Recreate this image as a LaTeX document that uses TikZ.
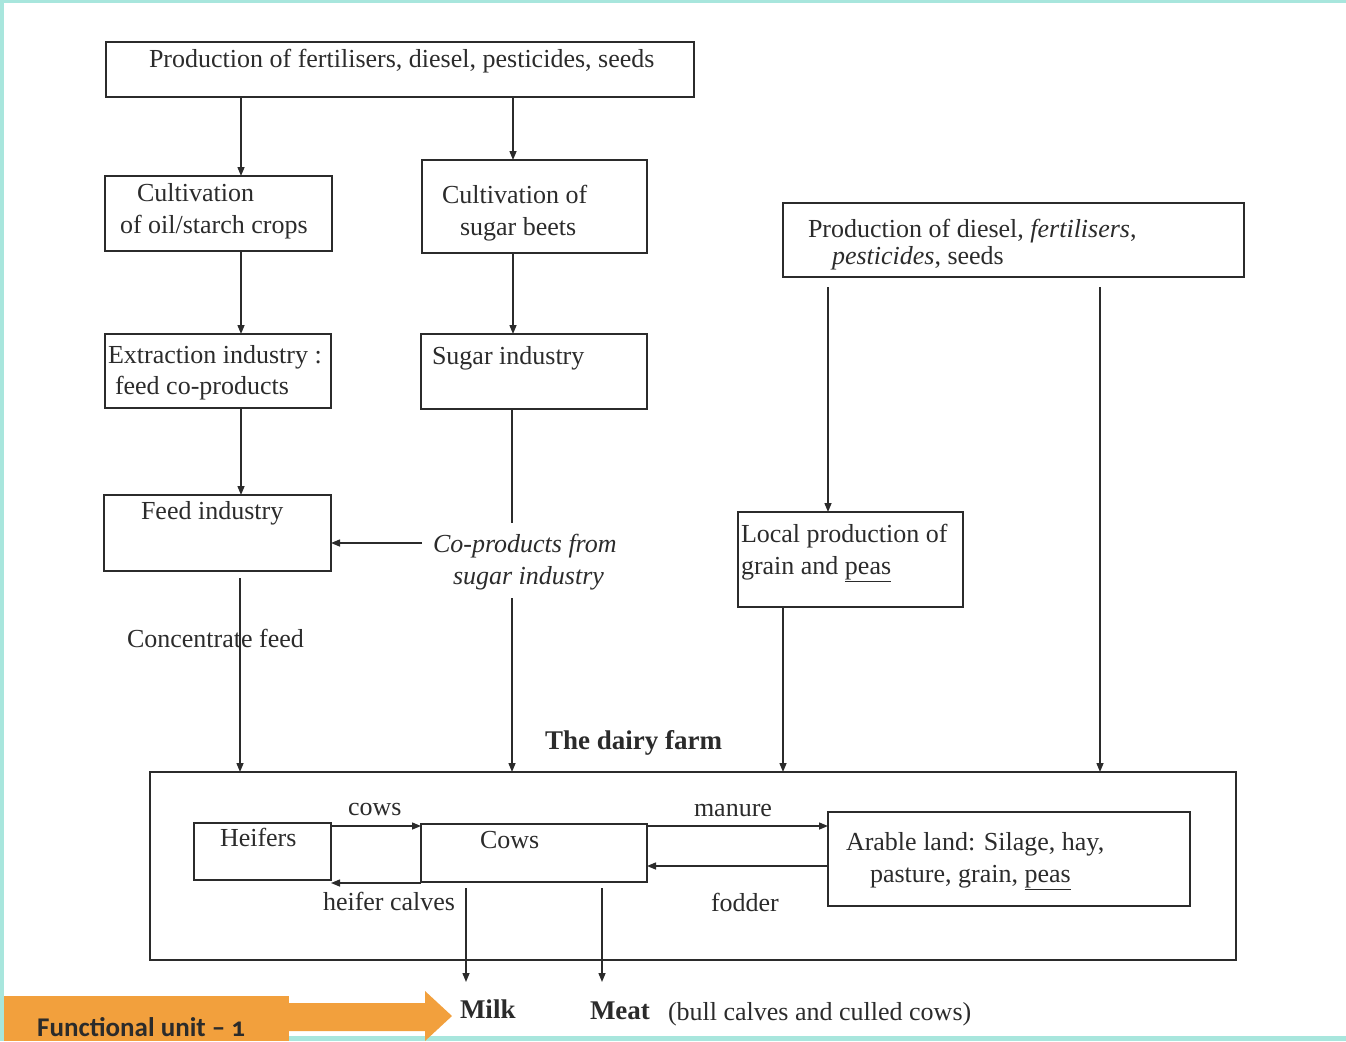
\documentclass[tikz,border=0pt]{standalone}
\usepackage{fontspec}
\setmainfont{Liberation Serif}
\newfontfamily\fufont[Numbers=OldStyle]{Carlito}
\usetikzlibrary{arrows.meta,calc}
\definecolor{teal1}{HTML}{A8E6DD}
\definecolor{orng}{HTML}{F2A03D}
\definecolor{ink}{HTML}{2B2B2B}
\tikzset{
  box/.style={draw=ink,line width=1.8pt,anchor=north west,inner sep=0pt,outer sep=0pt},
  txt/.style={anchor=base west,inner sep=0pt,outer sep=0pt,text=ink,font=\fontsize{26}{32}\selectfont},
  btxt/.style={txt,font=\fontsize{27}{32}\selectfont\bfseries},
  itxt/.style={txt,font=\fontsize{26}{32}\selectfont\itshape},
  conn/.style={draw=ink,line width=1.4pt},
  arr/.style={conn,-{Triangle[length=9pt,width=7pt]}},
}
\begin{document}
\begin{tikzpicture}[x=1pt,y=-1pt]
\useasboundingbox (0,0) rectangle (1346,1041);
% frame
\fill[teal1] (0,0) rectangle (1346,3);
\fill[teal1] (0,0) rectangle (4,1041);
\fill[teal1] (0,1036) rectangle (1346,1041);
% boxes
\node[box,minimum width=588pt,minimum height=55pt] (top) at (106,42) {};
\node[box,minimum width=227pt,minimum height=75pt] (cult) at (105,176) {};
\node[box,minimum width=225pt,minimum height=93pt] (beet) at (422,160) {};
\node[box,minimum width=461pt,minimum height=74pt] (dies) at (783,203) {};
\node[box,minimum width=226pt,minimum height=74pt] (extr) at (105,334) {};
\node[box,minimum width=226pt,minimum height=75pt] (sug) at (421,334) {};
\node[box,minimum width=227pt,minimum height=76pt] (feed) at (104,495) {};
\node[box,minimum width=225pt,minimum height=95pt] (local) at (738,512) {};
\node[box,minimum width=1086pt,minimum height=188pt] (farm) at (150,772) {};
\node[box,minimum width=137pt,minimum height=57pt] (heif) at (194,823) {};
\node[box,minimum width=226pt,minimum height=58pt] (cows) at (421,824) {};
\node[box,minimum width=362pt,minimum height=94pt] (arab) at (828,812) {};
% texts
\node[txt] (ttop) at (149,67) {Production of fertilisers, diesel, pesticides, seeds};
\node[txt] (tcult1) at (137,201) {Cultivation};
\node[txt] (tcult2) at (120,233) {of oil/starch crops};
\node[txt] (tbeet1) at (442,203) {Cultivation of};
\node[txt] (tbeet2) at (460,235) {sugar beets};
\node[txt] (tdies1) at (808,237) {Production of diesel, \textit{fertilisers},};
\node[txt] (tdies2) at (832,264) {\textit{pesticides}, seeds};
\node[txt] (textr1) at (108,363) {Extraction industry :};
\node[txt] (textr2) at (115,394) {feed co-products};
\node[txt] (tsug) at (432,364) {Sugar industry};
\node[txt] (tfeed) at (141,519) {Feed industry};
\node[itxt] (cop1) at (433,552) {Co-products from};
\node[itxt] (cop2) at (453,584) {sugar industry};
\node[txt] (tloc1) at (741,542) {Local production of};
\node[txt] (tloc2) at (741,574) {grain and \underline{peas}};
\node[txt] (conc) at (127,647) {Concentrate feed};
\node[btxt] (tfarm) at (545,749) {The dairy farm};
\node[txt] (lcows) at (348,815) {cows};
\node[txt] (theif) at (220,846) {Heifers};
\node[txt] (tcows) at (480,848) {Cows};
\node[txt] (lman) at (694,816) {manure};
\node[txt] (tarab1) at (846,850) {Arable land: Silage, hay,};
\node[txt] (tarab2) at (870,882) {pasture, grain, \underline{peas}};
\node[txt] (lcalv) at (323,910) {heifer calves};
\node[txt] (lfod) at (711,911) {fodder};
\node[btxt] (milk) at (460,1018) {Milk};
\node[btxt] (meat) at (590,1019) {Meat};
\node[txt] (meatx) at (668,1020) {(bull calves and culled cows)};
% connectors top part
\draw[arr] (top.south -| 241,0) -- (cult.north -| 241,0);
\draw[arr] (top.south -| 513,0) -- (beet.north -| 513,0);
\draw[arr] (cult.south -| 241,0) -- (extr.north -| 241,0);
\draw[arr] (beet.south -| 513,0) -- (sug.north -| 513,0);
\draw[arr] (extr.south -| 241,0) -- (feed.north -| 241,0);
\coordinate (cotop) at (512,523);
\coordinate (cobot) at (512,598);
\draw[conn] (sug.south -| 512,0) -- (cotop);
\draw[arr] (cobot) -- (farm.north -| 512,0);
\draw[arr] ([xshift=-11pt]cop1.west |- 0,543) -- (feed.east |- 0,543);
\draw[arr] ([yshift=-7pt]feed.south -| 240,0) -- (farm.north -| 240,0);
\draw[arr] ([yshift=-10pt]dies.south -| 828,0) -- (local.north -| 828,0);
\draw[arr] ([yshift=-10pt]dies.south -| 1100,0) -- (farm.north -| 1100,0);
\draw[arr] (local.south -| 783,0) -- (farm.north -| 783,0);
% inside farm
\draw[arr] (heif.east |- 0,826) -- (cows.west |- 0,826);
\draw[arr] (cows.west |- 0,883) -- (heif.east |- 0,883);
\draw[arr] (cows.east |- 0,826) -- (arab.west |- 0,826);
\draw[arr] (arab.west |- 0,866) -- (cows.east |- 0,866);
\draw[arr] ([yshift=-6pt]cows.south -| 466,0) -- (466,982);
\draw[arr] ([yshift=-6pt]cows.south -| 602,0) -- (602,982);
% functional unit
\fill[orng] (4,996) rectangle (289,1041);
\node[anchor=base west,inner sep=0pt,text=ink,font=\fontsize{27}{30}\selectfont\fufont\bfseries] (fu) at (37,1036) {Functional unit – 1};
\fill[orng] (289,1003) -- (425,1003) -- (425,991) -- (452,1016) -- (425,1041) -- (425,1031) -- (289,1031) -- cycle;
\end{tikzpicture}
\end{document}
